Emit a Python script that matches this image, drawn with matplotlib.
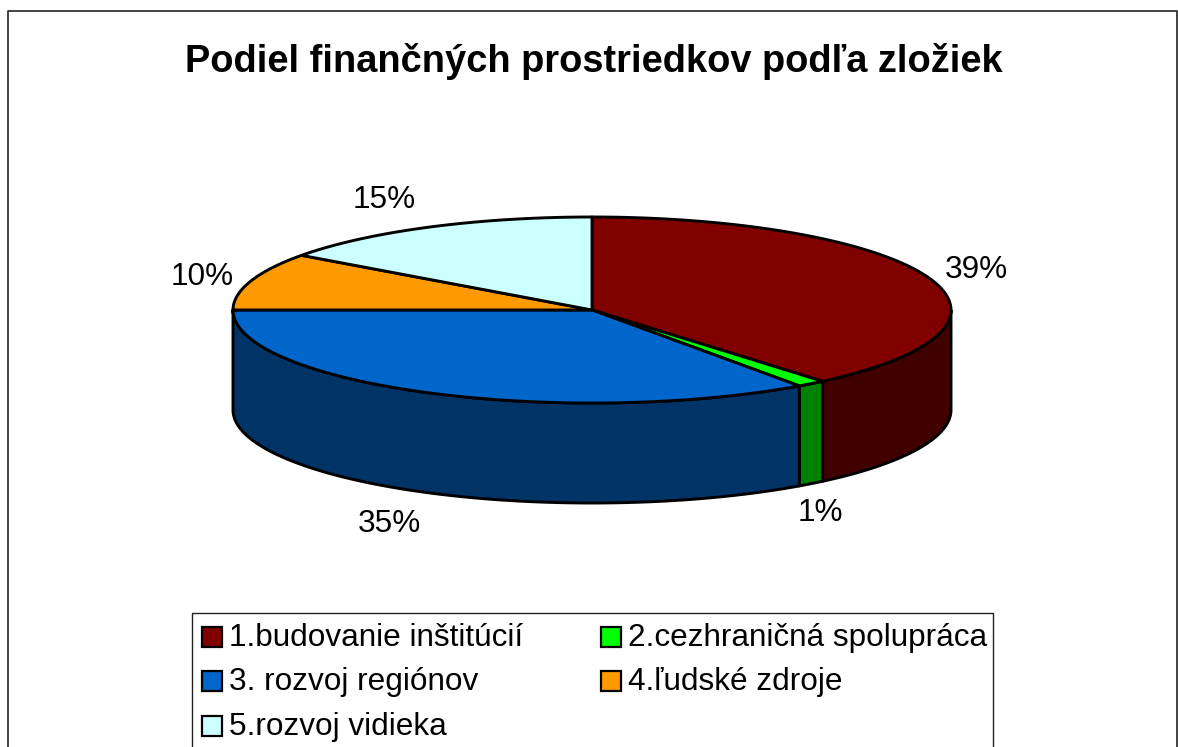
"""3D-look pie of funding shares, drawn on a pixel-sized axes."""

import matplotlib

matplotlib.use("Agg")
import matplotlib.pyplot as plt
import numpy as np
from matplotlib.patches import Polygon, Rectangle

plt.rcParams["font.family"] = ["Liberation Sans", "DejaVu Sans"]

TITLE = "Podiel finančných prostriedkov podľa zložiek"
CATEGORIES = ["1.budovanie inštitúcií", "2.cezhraničná spolupráca", "3. rozvoj regiónov",
              "4.ľudské zdroje", "5.rozvoj vidieka"]
VALUES = [38.9, 1.3, 34.8, 10.0, 15.0]
TOP_COLORS = ["#800000", "#00FF00", "#0066CC", "#FF9900", "#CCFFFF"]
WALL_COLORS = ["#400000", "#008000", "#003366", "#804C00", "#668080"]
LABEL_XY = [(976, 270), (820, 513), (389, 524), (202, 277), (384, 200)]

CX, CY, A, B, DEPTH = 592, 310, 359, 93, 100
LW = 2.1


def rim(t0, t1, dy=0.0):
    t = np.radians(np.linspace(t0, t1, max(int(abs(t1 - t0) * 2), 2)))
    return np.column_stack([CX + A * np.sin(t), CY + dy - B * np.cos(t)])


fig = plt.figure(figsize=(11.78, 7.47), dpi=100)
ax = fig.add_axes([0, 0, 1, 1])
ax.set_xlim(0, 1178)
ax.set_ylim(747, 0)
ax.axis("off")

# chart frame, cut off by the bottom of the picture
ax.plot([8, 8, 1177, 1177], [760, 11, 11, 760], color="#222222", lw=1.2)

ends = np.cumsum(VALUES) * 3.6
starts = np.r_[0, ends[:-1]]

for s, e, wall in zip(starts, ends, WALL_COLORS):
    lo, hi = max(s, 90), min(e, 270)
    if lo < hi:
        pts = np.vstack([rim(lo, hi), rim(hi, lo, DEPTH)])
        ax.add_patch(Polygon(pts, closed=True, facecolor=wall, edgecolor="black", lw=LW, joinstyle="round"))

for s, e, top in zip(starts, ends, TOP_COLORS):
    pts = np.vstack([[CX, CY], rim(s, e)])
    ax.add_patch(Polygon(pts, closed=True, facecolor=top, edgecolor="black", lw=LW, joinstyle="round"))

for v, (x, y) in zip(VALUES, LABEL_XY):
    ax.text(x, y, f"{v:.0f}%", ha="center", va="center", fontsize=22.7)

ax.text(594, 61, TITLE, ha="center", va="center", fontsize=27.4, fontweight="bold")

# legend box runs off the bottom edge like the original
ax.plot([192, 192, 993, 993], [760, 613, 613, 760], color="#222222", lw=1.0)
cols = [202, 601]
rows = [637, 681, 726]
for i, (name, top) in enumerate(zip(CATEGORIES, TOP_COLORS)):
    x, y = cols[i % 2], rows[i // 2]
    ax.add_patch(Rectangle((x, y - 10), 20, 20, facecolor=top, edgecolor="black", lw=1.6))
    ax.text(x + 27, y + 1, name, ha="left", va="center", fontsize=22.7)

fig.savefig("out.png", dpi=100)
